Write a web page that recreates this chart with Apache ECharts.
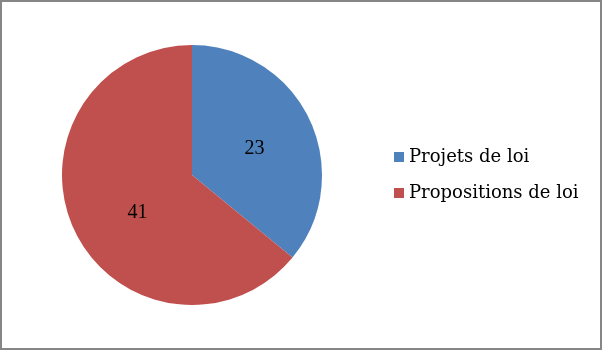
<!DOCTYPE html>
<html>
<head>
<meta charset="utf-8">
<script src="https://cdn.jsdelivr.net/npm/echarts@6/dist/echarts.min.js"></script>
<style>
html,body{margin:0;padding:0;background:#fff;}
#chart{width:602px;height:350px;}
</style>
</head>
<body>
<div id="chart"></div>
<script>
const categories = ["Projets de loi", "Propositions de loi"];
const values = [23, 41];
const colors = ["#4F81BD", "#C0504D"];

const chart = echarts.init(document.getElementById('chart'));
const fontFamily = '"DejaVu Serif", "Liberation Serif", serif';
chart.setOption({
  animation: false,
  color: colors,
  graphic: [{
    type: 'rect',
    shape: {x: 1, y: 1, width: 600, height: 348},
    style: {fill: 'none', stroke: '#868686', lineWidth: 2},
    silent: true
  }],
  legend: {
    orient: 'vertical',
    left: 389,
    top: 143,
    itemWidth: 10,
    itemHeight: 10,
    itemGap: 18,
    icon: 'rect',
    textStyle: {fontFamily: fontFamily, fontSize: 18, color: '#000', padding: [0,0,0,0]},
    data: categories
  },
  series: [{
    type: 'pie',
    center: [192, 175],
    radius: [0, 130],
    startAngle: 90,
    clockwise: true,
    label: {
      show: true,
      position: 'inside',
      formatter: '{c}',
      fontFamily: '"Liberation Serif", serif',
      fontSize: 20,
      color: '#000'
    },
    labelLine: {show: false},
    itemStyle: {borderWidth: 0},
    emphasis: {disabled: true},
    data: categories.map((c, i) => ({
      name: c,
      value: values[i],
      label: {offset: i === 0 ? [1, 3] : [7, 9]}
    }))
  }]
});
</script>
</body>
</html>
